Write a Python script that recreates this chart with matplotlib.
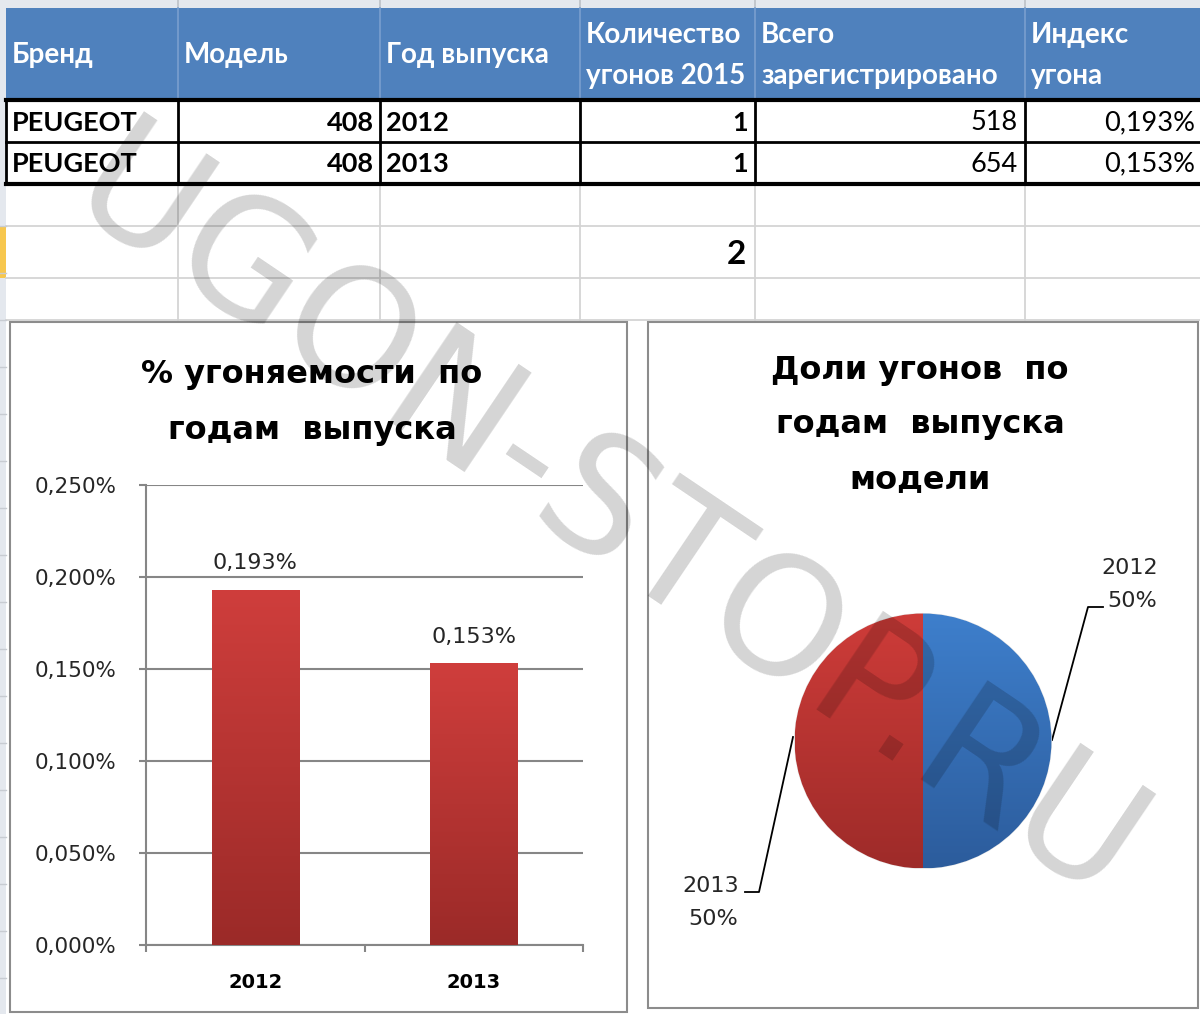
import matplotlib
matplotlib.use('Agg')
import matplotlib.pyplot as plt
import numpy as np
from matplotlib.patches import Rectangle
from matplotlib.colors import LinearSegmentedColormap

# ---------------- data ----------------
headers = ['Бренд', 'Модель', 'Год выпуска', 'Количество\nугонов 2015',
           'Всего\nзарегистрировано', 'Индекс\nугона']
brands = ['PEUGEOT', 'PEUGEOT']
models = ['408', '408']
years = ['2012', '2013']
thefts = [1, 1]
registered = [518, 654]
theft_index = [0.193, 0.153]          # percent
total_thefts = 2
bar_title = '% угоняемости  по\nгодам  выпуска'
pie_title = 'Доли угонов  по\nгодам  выпуска\nмодели'
pie_values = [1, 1]
pie_labels = ['2012', '2013']
yticks = [0.0, 0.05, 0.10, 0.15, 0.20, 0.25]
watermark = 'UGON-STOP.RU'

W, H = 1200, 1014
fig = plt.figure(figsize=(12, 10.14), dpi=100)
fig.patch.set_facecolor('white')


def fbox(x0, y0, x1, y1):
    return [x0 / W, 1 - y1 / H, (x1 - x0) / W, (y1 - y0) / H]


# ---------------- spreadsheet background ----------------
bg = fig.add_axes([0, 0, 1, 1])
bg.set_xlim(0, W)
bg.set_ylim(H, 0)
bg.axis('off')

col_x = [6, 178, 380, 580, 755, 1025, 1200]
grid_c = '#d4d4d4'
bg.add_patch(Rectangle((0, 0), W, 8, color='#e4e8ee', lw=0))
bg.add_patch(Rectangle((0, 0), 6, H, color='#e4e8ee', lw=0))
bg.add_patch(Rectangle((0, 226), 6, 52, color='#f7c74e', lw=0))
for yy in range(226, H, 47):
    bg.plot([0, 6], [yy, yy], color='#c8ccd2', lw=1)
for xx in col_x[1:-1]:
    bg.plot([xx, xx], [184, 322], color=grid_c, lw=1.3, zorder=1)
    bg.plot([xx, xx], [0, 8], color='#c0c4ca', lw=1.3, zorder=1)
for yy in [226, 278, 320]:
    bg.plot([6, W], [yy, yy], color=grid_c, lw=1.3, zorder=1)

# header band
bg.add_patch(Rectangle((6, 8), W - 6, 92, color='#4f81bd', lw=0, zorder=2))
for xx in col_x[1:-1]:
    bg.plot([xx, xx], [8, 100], color='#7a9fcf', lw=1.2, zorder=2)
hdr_kw = dict(color='white', fontsize=20, fontweight='bold',
              family=['Lato', 'DejaVu Sans'], va='center', ha='left', zorder=4)
for i, h in enumerate(headers):
    x = col_x[i] + 6
    lines = h.split('\n')
    if len(lines) == 1:
        bg.text(x, 55, lines[0], **hdr_kw)
    else:
        bg.text(x, 35, lines[0], **hdr_kw)
        bg.text(x, 76, lines[1], **hdr_kw)

# table body
for yy, lw in [(100, 3), (142, 2), (184, 3)]:
    bg.plot([6, W], [yy, yy], color='black', lw=lw, zorder=3)
for xx in col_x[:-1]:
    bg.plot([xx, xx], [100, 184], color='black', lw=2, zorder=3)

cell_kw = dict(fontsize=19.5, family=['Lato', 'DejaVu Sans'], va='center',
               color='black', zorder=4)
row_y = [123, 164]
for r in range(len(brands)):
    y = row_y[r]
    bg.text(12, y, brands[r], ha='left', fontweight='bold', **cell_kw)
    bg.text(374, y, models[r], ha='right', fontweight='bold', **cell_kw)
    bg.text(386, y, years[r], ha='left', fontweight='bold', **cell_kw)
    bg.text(748, y, str(thefts[r]), ha='right', fontweight='bold', **cell_kw)
    bg.text(1018, y, str(registered[r]), ha='right', **cell_kw)
    bg.text(1195, y, f'{theft_index[r]:.3f}%'.replace('.', ','), ha='right', **cell_kw)
bg.text(746, 255, str(total_thefts), ha='right', va='center', fontsize=24,
        fontweight='bold', family=['Lato', 'DejaVu Sans'], color='black', zorder=4)

# chart frames
bg.add_patch(Rectangle((10, 322), 617, 690, facecolor='white',
                       edgecolor='#8c8c8c', lw=1.5, zorder=5))
bg.add_patch(Rectangle((648, 322), 550, 686, facecolor='white',
                       edgecolor='#8c8c8c', lw=1.5, zorder=5))

title_kw = dict(fontsize=23, fontweight='bold', color='black',
                ha='center', va='center', zorder=6)
for i, line in enumerate(bar_title.split('\n')):
    bg.text(312, 375 + 55 * i, line, **title_kw)
for i, line in enumerate(pie_title.split('\n')):
    bg.text(920, 370 + 55 * i, line, **title_kw)


def grad(ax, patch, extent, ctop, cbot):
    cmap = LinearSegmentedColormap.from_list('g', [cbot, ctop])
    g = np.linspace(0, 1, 256).reshape(-1, 1)
    im = ax.imshow(g, extent=extent, origin='lower', cmap=cmap,
                   aspect='auto', interpolation='bicubic', zorder=3)
    im.set_clip_path(patch)


# ---------------- bar chart ----------------
axb = fig.add_axes(fbox(146, 485, 583, 945))
axb.patch.set_alpha(0)
x = np.arange(len(years))
bars = axb.bar(x, theft_index, width=0.40, color='#b83432', lw=0, zorder=2)
for b, v in zip(bars, theft_index):
    grad(axb, b, [b.get_x(), b.get_x() + b.get_width(), 0, v], '#cf3e3c', '#9b2a28')
    axb.text(b.get_x() + b.get_width() / 2, v + 0.009,
             f'{v:.3f}%'.replace('.', ','), ha='center', va='bottom',
             fontsize=16, color='#262626')
axb.set_xlim(-0.5, 1.5)
axb.set_ylim(0, 0.25)
axb.set_yticks(yticks)
axb.set_yticklabels([f'{v:.3f}%'.replace('.', ',') for v in yticks])
axb.set_xticks(x)
axb.set_xticklabels(years, fontweight='bold')
axb.set_xticks([-0.5, 0.5, 1.5], minor=True)
axb.yaxis.grid(True, color='#868686', lw=1.5)
axb.set_axisbelow(True)
for s in ['top', 'right']:
    axb.spines[s].set_visible(False)
for s in ['left', 'bottom']:
    axb.spines[s].set_color('#868686')
    axb.spines[s].set_linewidth(1.5)
axb.tick_params(axis='y', length=5, width=1.5, color='#868686',
                labelsize=15.5, pad=16, labelcolor='#262626')
axb.tick_params(axis='x', which='major', length=0, labelsize=14, pad=20)
axb.tick_params(axis='x', which='minor', length=5, width=1.5, color='#868686')

# ---------------- pie chart ----------------
axp = fig.add_axes(fbox(792, 611, 1054, 871))
wedges, _ = axp.pie(pie_values, colors=['#3a78c2', '#bf3734'], startangle=90,
                    counterclock=False, radius=1,
                    wedgeprops=dict(lw=0.8, edgecolor='#e8e8e8'))
cols = [('#3e7fcc', '#2c5c9c'), ('#ce3c39', '#9e2b29')]
for w, (ct, cb) in zip(wedges, cols):
    grad(axp, w, [-1, 1, -1, 1], ct, cb)
axp.set_xlim(-1.02, 1.02)
axp.set_ylim(-1.02, 1.02)
axp.set_aspect('auto')
axp.axis('off')

# leader lines and labels
lab_kw = dict(fontsize=16, color='#262626', ha='center', va='center', zorder=7)
share = [v / sum(pie_values) * 100 for v in pie_values]
bg.plot([1052, 1088, 1103], [740, 607, 607], color='black', lw=1.3, zorder=7)
bg.text(1130, 568, pie_labels[0], **lab_kw)
bg.text(1132, 601, f'{share[0]:.0f}%', **lab_kw)
bg.plot([793, 759, 745], [737, 892, 892], color='black', lw=1.3, zorder=7)
bg.text(711, 886, pie_labels[1], **lab_kw)
bg.text(713, 919, f'{share[1]:.0f}%', **lab_kw)

# ---------------- watermark ----------------
fig.text(606 / W, 1 - 522 / H, watermark, fontsize=118, color='black', alpha=0.17,
         rotation=-34, rotation_mode='anchor', ha='center', va='center', zorder=20)

fig.savefig('out.png', dpi=100)
